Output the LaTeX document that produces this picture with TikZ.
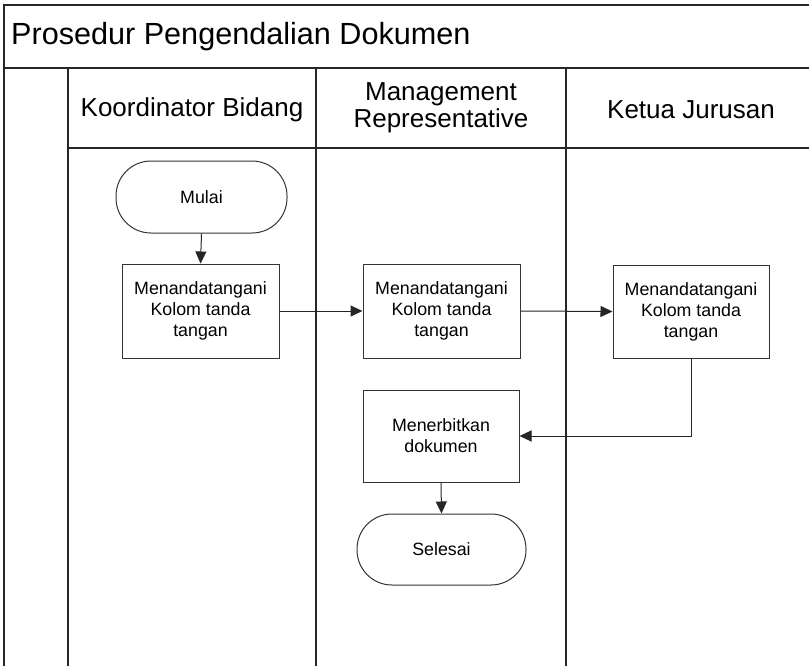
\documentclass[tikz,border=0pt]{standalone}
\usepackage{fontspec}
\setmainfont{Liberation Sans}
\usetikzlibrary{arrows.meta}
\begin{document}
\begin{tikzpicture}[x=1pt,y=-1pt,
  frame/.style={line width=2pt, draw=black!85},
  lane/.style={line width=1.3pt, draw=black!85},
  proc/.style={draw=black!80, line width=1pt, minimum width=157pt, minimum height=94pt, align=center, font=\fontsize{17.8}{21}\selectfont, inner sep=0pt},
  term/.style={draw=black!80, line width=1pt, rounded corners=35pt, minimum width=170pt, minimum height=72pt, align=center, font=\fontsize{17.8}{21}\selectfont, inner sep=0pt},
  head/.style={align=center, font=\fontsize{26}{27}\selectfont, inner sep=0pt},
  arr/.style={line width=1pt, draw=black!85, -{Triangle[length=12pt,width=11pt]}}
]
\useasboundingbox (0,0) rectangle (809,665);
% frame
\draw[frame] (820,5) -- (4,5) -- (4,670);
\draw[line width=2.6pt, draw=black!85] (4,68) -- (820,68);
\draw[lane] (68,68) -- (68,670);
\draw[lane] (316,68) -- (316,670);
\draw[lane] (566,68) -- (566,670);
\draw[lane] (68,148) -- (820,148);
% title
\node[anchor=west, inner sep=0pt, font=\fontsize{30.6}{36}\selectfont] (title) at (11,37) {Prosedur Pengendalian Dokumen};
% headers
\node[head] (h1) at (192,110) {Koordinator Bidang};
\node[head] (h2) at (441,108) {Management\\Representative};
\node[head] (h3) at (691,110) {Ketua Jurusan};
% nodes
\node[term, minimum width=171pt] (start) at (201.5,197) {Mulai};
\node[proc] (b1) at (200.5,311) {Menandatangani\\Kolom tanda\\tangan};
\node[proc] (b2) at (441.5,311) {Menandatangani\\Kolom tanda\\tangan};
\node[proc, minimum width=156pt, minimum height=93pt] (b3) at (691,311.5) {Menandatangani\\Kolom tanda\\tangan};
\node[proc, minimum width=156pt, minimum height=92pt] (pub) at (441,436) {Menerbitkan\\dokumen};
\node[term, minimum width=169pt, minimum height=71pt] (end) at (441.5,549.5) {Selesai};
% connectors
\draw[arr] (start.south) -- (b1.north);
\draw[arr] (b1.east) -- (b2.west);
\draw[arr] (b2.east) -- (b3.west);
\draw[arr] (b3.south) |- (pub.east);
\draw[arr] (pub.south) -- (end.north);
\end{tikzpicture}
\end{document}
